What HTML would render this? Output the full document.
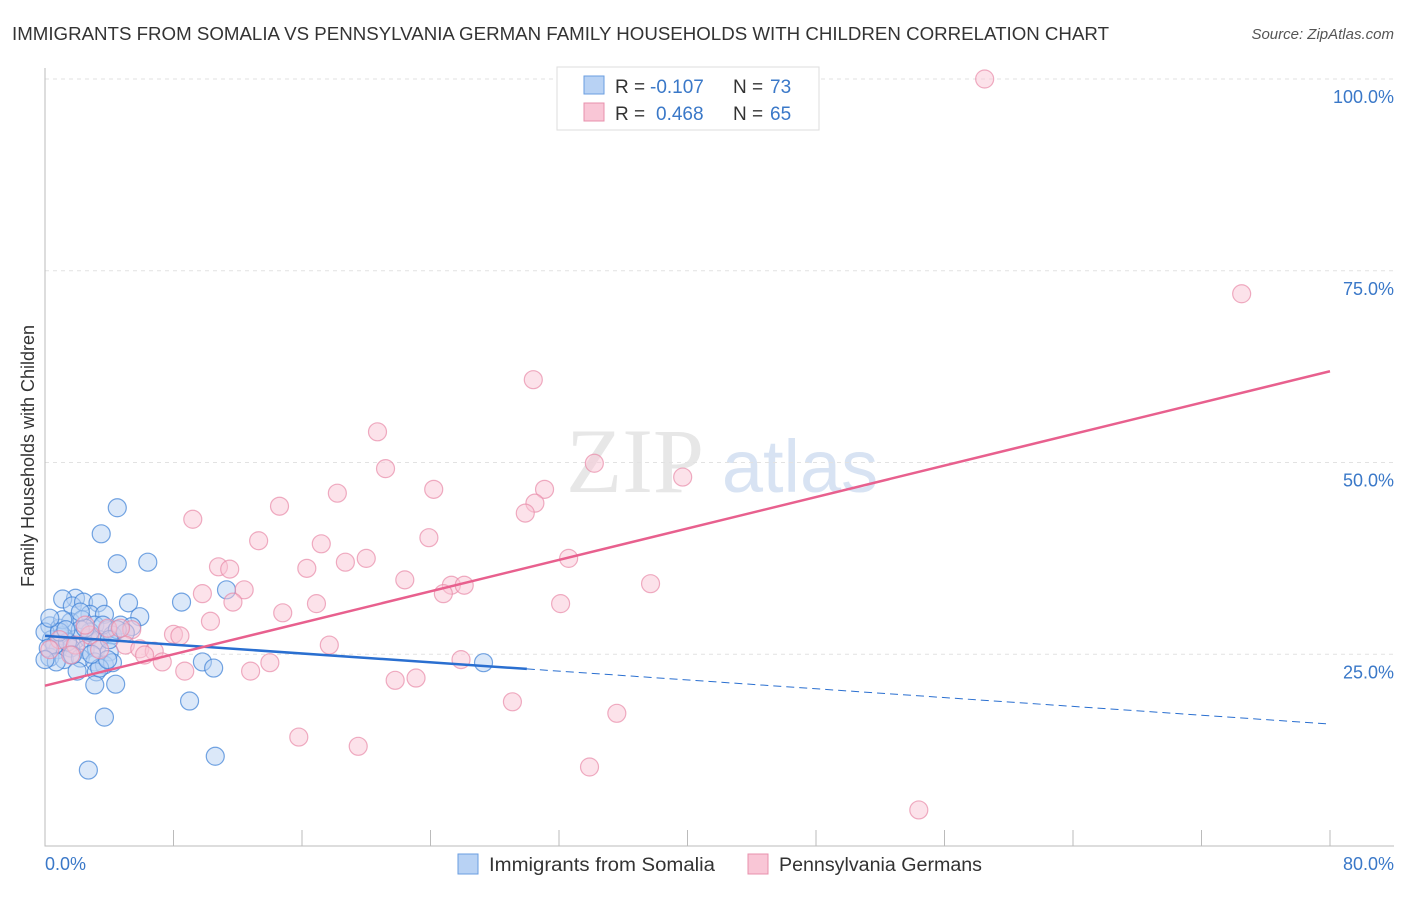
<!DOCTYPE html>
<html><head><meta charset="utf-8"><style>
body{margin:0;background:#fff;font-family:"Liberation Sans",sans-serif}
</style></head><body>
<svg width="1406" height="892" viewBox="0 0 1406 892" xmlns="http://www.w3.org/2000/svg">
<text x="12" y="40" font-size="18" fill="#333" textLength="1097" lengthAdjust="spacingAndGlyphs">IMMIGRANTS FROM SOMALIA VS PENNSYLVANIA GERMAN FAMILY HOUSEHOLDS WITH CHILDREN CORRELATION CHART</text>
<text x="1394" y="39" font-size="15" fill="#555" font-style="italic" text-anchor="end">Source: ZipAtlas.com</text>
<g><text x="635" y="492" font-size="92" fill="#ddd" font-family="Liberation Serif,serif" text-anchor="middle" opacity="0.7">ZIP</text><text x="800" y="492" font-size="74" fill="#c8d8ee" text-anchor="middle" opacity="0.7">atlas</text></g>
<g id="grid"></g><g id="axes"></g><g id="marks"></g>
<text x="34" y="456" font-size="18" fill="#333" text-anchor="middle" transform="rotate(-90 34 456)">Family Households with Children</text>
<text x="45" y="870" font-size="18" fill="#3a78c8">0.0%</text>
<text x="1394" y="870" font-size="18" fill="#3a78c8" text-anchor="end">80.0%</text>
<g>
<rect x="557" y="67" width="262" height="63" fill="#fff" stroke="#ddd"/>
<rect x="584" y="76" width="20" height="18" fill="#b8d2f4" stroke="#6a9ee0"/>
<rect x="584" y="103" width="20" height="18" fill="#f9c6d6" stroke="#e890ac"/>
<text y="93" font-size="19" fill="#333"><tspan x="615">R =</tspan><tspan x="650" fill="#3a78c8">-0.107</tspan><tspan x="733">N =</tspan><tspan x="770" fill="#3a78c8">73</tspan></text>
<text y="120" font-size="19" fill="#333"><tspan x="615">R =</tspan><tspan x="656" fill="#3a78c8">0.468</tspan><tspan x="733">N =</tspan><tspan x="770" fill="#3a78c8">65</tspan></text>
</g>
<g>
<rect x="458" y="854" width="20" height="20" fill="#b8d2f4" stroke="#6a9ee0"/>
<text x="489" y="871" font-size="19" fill="#333" textLength="226" lengthAdjust="spacingAndGlyphs">Immigrants from Somalia</text>
<rect x="748" y="854" width="20" height="20" fill="#f9c6d6" stroke="#e890ac"/>
<text x="779" y="871" font-size="19" fill="#333" textLength="203" lengthAdjust="spacingAndGlyphs">Pennsylvania Germans</text>
</g>
</svg>
<script>
const yTicks=[25,50,75,100];
const yTickLabels=["25.0%","50.0%","75.0%","100.0%"];
const blueX=[4.5,3.5,4.5,6.4,1.9,1.1,1.7,2.4,3.3,2.8,3.7,5.2,5.9,8.5,11.3,0.3,0.9,1.6,2.3,3.1,3.9,4.7,5.4,0.4,1.1,1.9,2.7,3.4,4.2,0.8,1.6,2.5,3.2,4.0,0.3,1.2,2.2,3.1,3.7,4.2,2.0,3.2,3.1,4.4,9.0,3.7,2.7,10.6,9.8,10.5,27.3,0.0,0.6,1.4,2.8,0.2,5.0,3.6,2.2,1.1,3.4,0.7,3.9,1.7,2.9,0.9,4.5,0.0,2.5,1.3,4.0,0.3,2.2];
const blueY=[44.1,40.7,36.8,37.0,32.3,32.2,31.3,31.8,31.7,30.2,30.2,31.7,29.9,31.8,33.4,28.7,28.4,29.2,29.5,28.8,28.2,28.8,28.6,26.9,27.4,26.9,27.1,26.9,27.5,25.6,25.8,25.6,25.8,25.3,24.6,24.3,24.5,24.0,23.6,23.9,22.8,22.7,21.0,21.1,18.9,16.8,9.9,11.7,24.0,23.2,23.9,27.9,26.2,26.6,27.9,25.8,27.8,28.8,28.2,29.5,23.2,24.0,24.3,24.9,25.0,27.9,28.2,24.3,28.4,28.2,26.9,29.7,30.5];
const pinkX=[58.5,74.5,30.4,20.7,21.2,34.2,39.7,18.2,24.2,31.1,30.5,29.9,14.6,9.2,23.9,17.2,13.3,20.0,18.7,32.6,10.8,11.5,16.3,22.4,25.3,26.1,24.8,37.7,9.8,12.4,11.7,16.9,32.1,14.8,10.3,8.0,8.4,5.4,3.9,5.0,5.9,6.8,6.2,7.3,8.7,12.8,14.0,17.7,25.9,21.8,23.1,29.1,35.6,15.8,19.5,33.9,54.4,0.9,1.9,2.8,3.4,4.7,1.6,2.5,0.3];
const pinkY=[100,72.0,60.8,54.0,49.2,49.9,48.1,46.0,46.5,46.5,44.7,43.4,44.3,42.6,40.2,39.4,39.8,37.5,37.0,37.5,36.4,36.1,36.2,34.7,34.0,34.0,32.9,34.2,32.9,33.4,31.8,31.6,31.6,30.4,29.3,27.6,27.4,28.2,28.4,26.2,25.7,25.4,24.9,24.0,22.8,22.8,23.9,26.2,24.3,21.6,21.9,18.8,17.3,14.2,13.0,10.3,4.7,26.9,26.2,27.5,25.6,28.4,24.9,28.8,25.6];
const blueTrend=[27.4,15.9];
const blueSolidEnd=30;
const pinkTrend=[20.9,61.9];
const NS="http://www.w3.org/2000/svg";
const xs=v=>45+v/80*1285, ys=v=>846-v/100*767;
function mk(t,a,p){const e=document.createElementNS(NS,t);for(const k in a)e.setAttribute(k,a[k]);p.appendChild(e);return e;}
const grid=document.getElementById('grid'),axes=document.getElementById('axes'),marks=document.getElementById('marks');
yTicks.forEach((t,i)=>{
 const l=mk('line',{x1:45,x2:1394,y1:ys(t),y2:ys(t),stroke:'#e2e2e2','stroke-dasharray':'4,4'},grid);
 
 
 const tx=mk('text',{x:1394,y:ys(t)+24,'font-size':18,fill:'#3a78c8','text-anchor':'end'},grid);
 tx.textContent=yTickLabels[i];
 
 
});
const ax=mk('path',{d:'M45,68V846H1394',stroke:'#bbb',fill:'none'},axes);


for(let i=0;i<=10;i++){const t=mk('line',{x1:xs(i*8),x2:xs(i*8),y1:830,y2:846,stroke:'#bbb'},axes);
 
 }
function dots(X,Y,fill,stroke,name){X.forEach((x,i)=>{const c=mk('circle',{cx:xs(x),cy:ys(Y[i]),r:9,fill:fill,'fill-opacity':0.5,stroke:stroke,'stroke-opacity':0.7,'stroke-width':1.2},marks);
 
 });}
dots(blueX,blueY,'#b8d2f4','#3a7fd6','somalia-point');
dots(pinkX,pinkY,'#f9c6d6','#e88aa8','pennsylvania-german-point');
const by=x=>blueTrend[0]+(blueTrend[1]-blueTrend[0])*x/80;
const b1=mk('line',{x1:xs(0),y1:ys(by(0)),x2:xs(blueSolidEnd),y2:ys(by(blueSolidEnd)),stroke:'#2a6fd0','stroke-width':2.5},marks);


const b2=mk('line',{x1:xs(blueSolidEnd),y1:ys(by(blueSolidEnd)),x2:xs(80),y2:ys(by(80)),stroke:'#2a6fd0','stroke-width':1,'stroke-dasharray':'8,5'},marks);


const p1=mk('line',{x1:xs(0),y1:ys(pinkTrend[0]),x2:xs(80),y2:ys(pinkTrend[1]),stroke:'#e8608e','stroke-width':2.5},marks);


</script>
</body></html>
